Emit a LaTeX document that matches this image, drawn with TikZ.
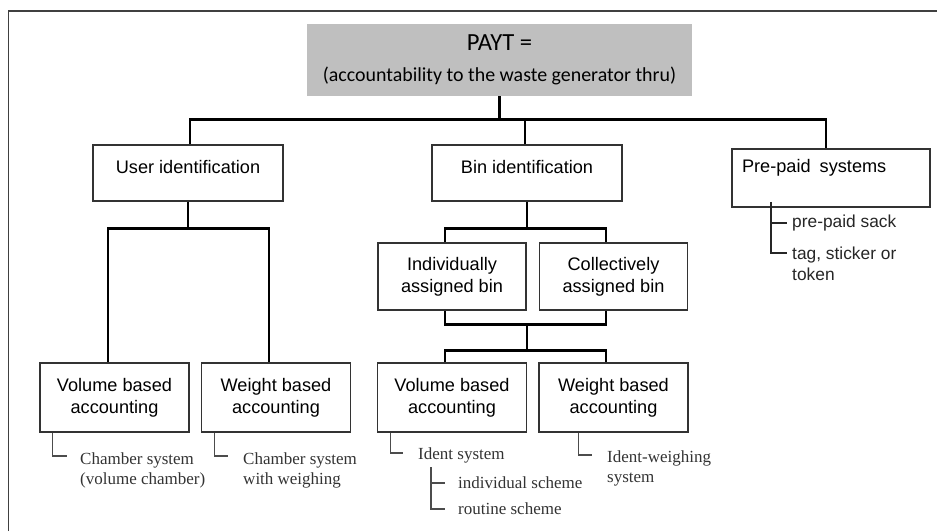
\documentclass[tikz,border=0pt]{standalone}
\usepackage{fontspec}
\setmainfont{Liberation Serif}
\setsansfont{Liberation Sans}
\newfontfamily\calibri{Carlito}
\usetikzlibrary{calc}

\begin{document}
\begin{tikzpicture}[x=0.03cm, y=-0.03cm,
    box/.style={draw=black!80, line width=1.3pt, inner sep=0pt, align=center, font=\sffamily\fontsize{15.5}{18.5}\selectfont},
    topbox/.style={box, minimum width=5.7cm, text height=24pt, text depth=23.5pt},
    midbox/.style={box, minimum width=4.44cm, minimum height=2.01cm},
    lowbox/.style={box, minimum width=4.47cm, minimum height=2.07cm},
    link/.style={line width=2.3pt},
    tick/.style={draw=black!70, line width=1.2pt},
    leaf/.style={anchor=west, inner sep=0pt, align=left, text=black!80, font=\rmfamily\fontsize{14.5}{17}\selectfont},
    psub/.style={anchor=west, inner sep=0pt, align=left, text=black!85, font=\sffamily\fontsize{14.8}{18}\selectfont}]
                        \useasboundingbox (0,0) rectangle (937,531);
                        \draw[black!75, line width=1.4pt] (8.5,531) -- (8.5,11) -- (937,11);
                        % top of the tree
                        \node[fill=black!25, minimum width=11.55cm, minimum height=2.16cm, align=center, inner sep=0pt, font=\calibri] (payt) at (499.5,60) {{\fontsize{21}{24}\selectfont PAYT =}\\[13pt]{\fontsize{17}{20}\selectfont (accountability to the waste generator thru)}};
                        \node[topbox] (user) at (188,173) {User identification};
                        \node[topbox] (bin) at (527,173) {Bin identification};
                        \node[box, text width=5.34cm, inner xsep=0.3cm, align=left, text height=20pt, text depth=29.5pt] (prepaid) at (831,178) {Pre-paid\enspace systems};
                        \coordinate (bus) at ($(payt.south)+(0,23)$);
                        \draw[link] (payt.south) -- (bus);
                        \draw[link] ($(user.north)+(2,0)$) |- (bus) -| ($(prepaid.north)+(-5,0)$);
                        \draw[link] ($(bin.north)+(-2,0)$) coordinate (b) -- (b |- bus);
                        % user identification
                        \node[lowbox] (vol1) at (114.5,397.5) {Volume based\\accounting};
                        \node[lowbox] (wei1) at (276,397.5) {Weight based\\accounting};
                        \draw[link] (user.south) -- ++(0,27) coordinate (ubar);
                        \draw[link] ($(vol1.north)+(-6.5,0)$) |- (ubar) -| ($(wei1.north)+(-7,0)$);
                        % bin identification
                        \node[midbox] (indiv) at (452,276.5) {Individually\\assigned bin};
                        \node[midbox] (coll) at (613.5,276.5) {Collectively\\assigned bin};
                        \node[lowbox] (vol2) at (452,397.5) {Volume based\\accounting};
                        \node[lowbox] (wei2) at (613.5,397.5) {Weight based\\accounting};
                        \draw[link] (bin.south) -- ++(0,27) coordinate (bbar);
                        \draw[link] ($(indiv.north)+(-7,0)$) |- (bbar) -| ($(coll.north)+(-7.5,0)$);
                        \draw[link] ($(indiv.south)+(-7,0)$) |- ($(coll.south)+(-7.5,14)$) coordinate (cbar) -- ($(coll.south)+(-7.5,0)$);
                        \draw[link] (bbar |- cbar) -- ++(0,26) coordinate (vbar);
                        \draw[link] ($(vol2.north)+(-7,0)$) |- (vbar) -| ($(wei2.north)+(-7.5,0)$);
                        % leaves
                        \node[leaf] (cham1) at (80,470) {Chamber system\\(volume chamber)};
                        \node[leaf] (cham2) at (243,470) {Chamber system\\with weighing};
                        \node[leaf] (ident) at (418,455) {Ident system};
                        \node[leaf] (indsch) at (458,483) {individual scheme};
                        \node[leaf] (rousch) at (458,509) {routine scheme};
                        \node[leaf] (idw) at (607,468) {Ident-weighing\\system};
                        \node[psub] (sack) at (792,223) {pre-paid sack};
                        \node[psub] (tag) at (792,263.5) {tag, sticker or\\token};
                        \draw[tick] ($(vol1.south west)+(13,0)$) |- ($(cham1.west)+(-13,-14)$);
                        \draw[tick] ($(wei1.south west)+(14,0)$) |- ($(cham2.west)+(-15,-14)$);
                        \draw[tick] ($(vol2.south west)+(14,0)$) |- ($(ident.west)+(-15,-2)$);
                        \draw[tick] ($(ident.west)+(13,12)$) |- ($(indsch.west)+(-13,0)$) ($(ident.west)+(13,12)$) |- ($(rousch.west)+(-13,0)$);
                        \draw[tick] ($(wei2.south west)+(40,0)$) |- ($(idw.west)+(-15,-13)$);
                        \draw[tick, draw=black!85, line width=1.6pt] ($(prepaid.south west)+(40,-6)$) |- ($(sack.west)+(-5,0)$) ($(prepaid.south west)+(40,-6)$) |- ($(tag.west)+(-5,-10.5)$);
\end{tikzpicture}
\end{document}
